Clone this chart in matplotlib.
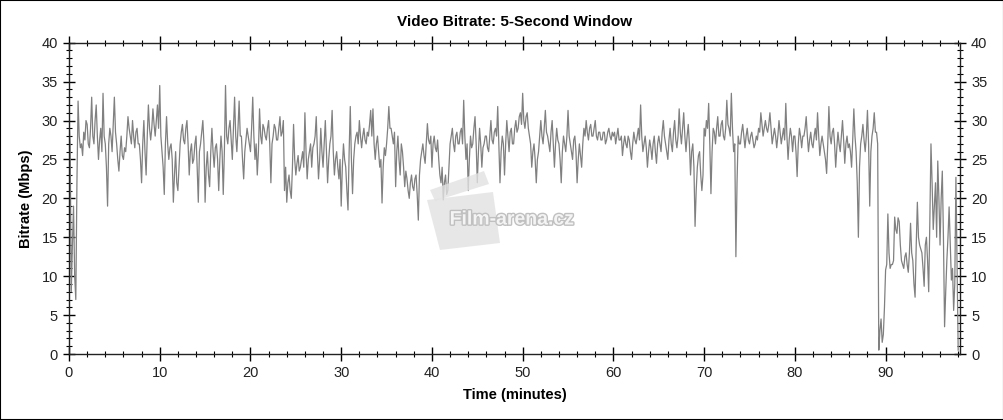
import matplotlib
matplotlib.use("Agg")
import matplotlib.pyplot as plt
import matplotlib.patheffects as pe
from matplotlib.patches import Rectangle, Polygon
from matplotlib.ticker import MultipleLocator
import numpy as np

# bitrate in Mbps, one value every 7.5 seconds (8 per minute)
bitrate_00_09 = [30, 27, 8, 14, 19, 10, 7, 22, 32.5, 28, 26.5, 27, 25.5, 28.5, 27.5, 30,
                 29.5, 27, 26.5, 29, 33, 28, 27, 30, 32, 28, 25, 27.5, 29, 26, 33.5, 28,
                 27, 24, 19, 27, 29, 28, 26, 29.5, 33, 28.5, 27, 25, 23.5, 26, 28, 25.5,
                 25, 26.5, 26, 28, 30.5, 29, 28, 27, 30, 28, 26.5, 28.5, 29, 27, 27, 25,
                 22, 27, 30, 26, 23, 28, 32, 29, 27.5, 29, 31.5, 29.5, 28, 30, 32, 29]
bitrate_10_19 = [34.5, 28, 26, 24, 20.5, 27, 30.5, 27, 25, 26.5, 27, 25, 19.5, 23, 26, 22,
                 21, 24, 27, 28.5, 29.5, 27.5, 27, 29, 30, 27, 23, 26, 27, 24.5, 25, 27,
                 28, 24, 19.5, 26, 27, 28.5, 30, 27, 19.5, 24, 26, 23, 21.5, 26, 29, 26,
                 24, 26.5, 27, 25, 21, 25, 28, 26, 20.5, 26, 34.5, 28, 27, 29, 30, 27.5,
                 25, 29, 33, 28, 26, 29, 32.5, 28, 28, 25, 22.5, 26, 27.5, 29, 28, 27]
bitrate_20_29 = [26, 29, 33, 28, 25, 27, 23, 26, 31.5, 28, 27, 29.5, 29, 28, 27.5, 29,
                 30, 27, 22, 27, 28, 29.5, 29, 27.5, 27.5, 29, 30.5, 28, 28.5, 30, 21, 24,
                 19.5, 22, 23, 21, 20, 24, 29.5, 25, 23, 24.5, 25.5, 23.5, 24, 25, 26, 24,
                 31, 26, 22.5, 25, 26, 27, 24, 26.5, 27, 28, 30.5, 26, 22.5, 25, 29, 26,
                 24, 27, 30, 26, 22, 25, 27, 28, 31.3, 26, 23, 25, 26, 24, 22.5, 25]
bitrate_30_39 = [19, 24, 27, 25, 24, 21, 18.5, 26, 31.8, 25, 20.6, 25, 27, 28, 28.5, 27,
                 30, 28, 26.5, 28, 29, 27.5, 27, 28.5, 28, 29.5, 31.3, 28, 31.5, 27, 25, 27,
                 28, 26, 24, 25, 19.4, 24, 26.5, 25.5, 27, 29, 31.8, 29, 29, 28, 27, 28.5,
                 21.5, 26, 28, 25, 23, 27, 26, 24, 21.5, 23.5, 22.5, 21, 20, 22, 23, 21.5,
                 21, 22.5, 23, 20.5, 17.2, 23, 25, 26, 27, 25.5, 24.5, 27, 29.6, 27.5, 27, 28]
bitrate_40_49 = [24, 27, 28, 26.5, 26, 27.5, 25, 23, 22, 24, 19.8, 22, 23, 20.5, 21, 24,
                 27, 28, 29, 27, 26, 28, 28.5, 27, 27, 28.5, 29, 27, 32.6, 28, 25, 27,
                 21, 25, 28, 26.5, 27, 29, 30.5, 27, 22, 26, 29, 27, 24, 26.5, 27, 28,
                 28, 26.5, 26, 28, 30, 27.5, 27, 28.5, 29, 28, 31.8, 27, 22, 26, 28, 27,
                 23, 27, 30, 28, 26, 28.5, 29, 27, 27, 29, 30, 28.5, 29, 30.5, 31, 29.5]
bitrate_50_59 = [33.5, 30, 29, 30.5, 31, 29, 28, 27, 24, 26, 27, 25, 22, 25, 26, 28,
                 30, 28, 27, 29, 31.3, 28.5, 28, 27, 26, 28.5, 30, 27, 24, 27, 29, 27.5,
                 27, 25, 22, 26, 28, 27, 26, 28, 31.3, 28, 27, 26, 25, 27.5, 28, 26,
                 22, 25, 27, 25.5, 24, 27, 29, 28, 30, 28.5, 27.5, 29, 29.5, 28, 28, 29,
                 30, 28, 27.5, 28.5, 28.5, 27.5, 27.5, 28.5, 28.5, 27, 27.5, 28.5, 29, 28, 27.5, 28.5]
bitrate_60_69 = [28, 28.5, 27, 28, 29, 27.5, 27.5, 28, 25.5, 27, 28, 27, 26.5, 28, 27.5, 26,
                 25, 27, 28.5, 27.5, 27, 28, 29, 27.5, 32, 28, 26, 27, 28, 26.5, 24, 26,
                 27.5, 26.5, 25, 27, 28, 26, 24.5, 27, 28, 27, 26, 28.5, 30, 28, 27, 26,
                 25, 27.5, 29, 27, 26, 28.5, 30, 27.5, 26.5, 28, 31.5, 28.5, 27, 29, 31, 28,
                 26, 28, 29.5, 27, 23, 26, 27, 24, 16.4, 21, 24, 25.5, 26, 23, 21, 23]
bitrate_70_79 = [29, 28, 30, 29, 32.2, 27, 20.6, 26, 29, 28.5, 27, 29, 30.5, 28, 28, 29.5,
                 30, 28, 27.5, 29, 32.6, 29.5, 29, 28, 33.5, 29, 26, 27, 12.5, 22, 28, 27,
                 27, 28.5, 29.5, 28, 26.5, 28, 29, 27.5, 27, 28, 28.5, 27.5, 26.5, 27, 28, 27.5,
                 29, 28.5, 31, 29.5, 28, 29, 30, 29, 28.5, 29.5, 31, 29, 27, 28, 29, 28,
                 26.5, 28, 30, 28.5, 27, 28, 29, 27.5, 32.2, 28, 25, 27.5, 29, 28, 26, 28]
bitrate_80_89 = [28, 26, 22.8, 27, 29, 28, 26.5, 28, 28, 29, 30.5, 28, 26, 27.5, 28.5, 27,
                 26.5, 28, 29, 27.5, 31, 28, 25.5, 27, 28, 27, 26, 25, 23.2, 27, 31.8, 28,
                 27, 28.5, 29, 27, 24, 26.5, 28.5, 27, 26, 28, 30, 27.5, 24.5, 27, 28, 26.5,
                 27, 26, 24, 27.5, 31.5, 28, 26, 22, 15, 24, 27, 28, 29.5, 27.5, 26, 28,
                 31.3, 27, 19, 26, 28, 29, 31, 28.5, 28.5, 27, 0.5, 3, 4.5, 1.5, 2.5, 6]
bitrate_90_98 = [10.8, 11.5, 18, 13, 11, 11.5, 11.5, 12, 17.6, 16, 15.5, 17.5, 17, 14, 12, 11.5,
                 11, 12.5, 13, 11.5, 10.5, 13, 16.8, 13, 12, 9, 7.3, 14, 19.5, 15, 14, 13.5,
                 13, 11, 8.7, 14, 15, 12, 8, 17, 27, 22, 16, 19, 22, 15, 24.8, 20,
                 14, 20, 23.5, 15, 3.5, 8, 12, 15, 18.9, 14, 9.5, 11, 5.6, 9, 22.7, 12,
                 0.5]

bitrate = np.array(bitrate_00_09 + bitrate_10_19 + bitrate_20_29 + bitrate_30_39 + bitrate_40_49
                   + bitrate_50_59 + bitrate_60_69 + bitrate_70_79 + bitrate_80_89 + bitrate_90_98)
time_minutes = np.arange(len(bitrate)) / 8.0

plt.rcParams["font.family"] = ["Liberation Sans", "DejaVu Sans"]

fig = plt.figure(figsize=(10.04, 4.2), dpi=100)
fig.set_facecolor("white")
ax = fig.add_axes([69 / 1004, 1 - 354 / 420, (960 - 69) / 1004, (354 - 42.7) / 420])

ax.plot(time_minutes, bitrate, color="#808080", linewidth=0.9)

ax.set_xlim(0, 98.2)
ax.set_ylim(0, 40)
ax.xaxis.set_major_locator(MultipleLocator(10))
ax.xaxis.set_minor_locator(MultipleLocator(2))
ax.yaxis.set_major_locator(MultipleLocator(5))
ax.yaxis.set_minor_locator(MultipleLocator(1))
ax.tick_params(axis="y", which="both", left=True, right=True, labelleft=True, labelright=True,
               direction="inout", labelsize=10.5, labelcolor="#222222")
ax.tick_params(axis="y", which="major", length=9, width=1)
ax.tick_params(axis="y", which="minor", length=5, width=0.8)
ax.tick_params(axis="x", which="both", bottom=True, top=True, direction="inout",
               labelsize=10.5, labelcolor="#222222")
ax.tick_params(axis="x", which="major", length=10, width=1)
ax.tick_params(axis="x", which="minor", length=5, width=0.8)
for side in ["left", "right", "top", "bottom"]:
    ax.spines[side].set_linewidth(1)
    ax.spines[side].set_color("#222222")

ax.set_title("Video Bitrate: 5-Second Window", fontsize=11, fontweight="bold", pad=12)
ax.set_xlabel("Time (minutes)", fontsize=10.5, fontweight="bold", labelpad=6)
ax.set_ylabel("Bitrate (Mbps)", fontsize=10.5, fontweight="bold", labelpad=6)

# watermark (clapperboard + site name), placed in pixel coordinates of the image
def px(points):
    return [(x / 1004, 1 - y / 420) for x, y in points]

fig.patches.append(Polygon(px([(427, 200), (493, 192), (500, 243), (440, 250)]),
                           closed=True, transform=fig.transFigure, facecolor="#e2e2e2",
                           edgecolor="none", alpha=0.8, zorder=5))
fig.patches.append(Polygon(px([(430, 190), (484, 171), (489, 184), (435, 201)]),
                           closed=True, transform=fig.transFigure, facecolor="#e2e2e2",
                           edgecolor="none", alpha=0.8, zorder=5))
fig.text(512 / 1004, 1 - 220 / 420, "Film-arena.cz", ha="center", va="center",
         fontsize=14, fontweight="bold", color="#f4f4f4", zorder=6,
         path_effects=[pe.withStroke(linewidth=2, foreground="#c0c0c0")])

fig.patches.append(Rectangle((0, 0), 1, 1, transform=fig.transFigure, fill=False,
                             edgecolor="black", linewidth=1.5))

fig.savefig("out.png", dpi=100, facecolor="white")
plt.close(fig)
